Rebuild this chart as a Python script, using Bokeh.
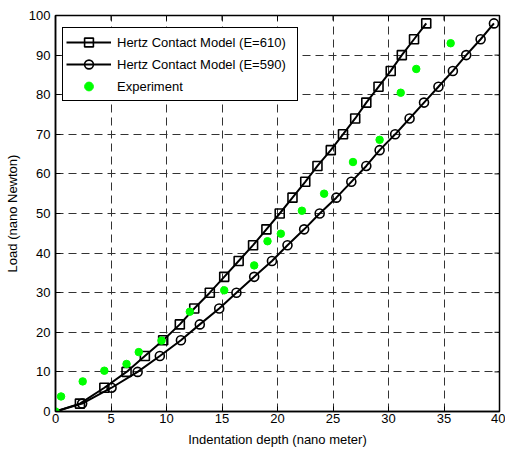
import math
from bokeh.plotting import figure
from bokeh.models import Range1d, FixedTicker, Legend, LegendItem
from bokeh.embed import file_html
from bokeh.resources import INLINE

# Hertz Contact Model (E=610)
sq_x = [0, 2.2, 4.4, 6.4, 8.05, 9.7, 11.2, 12.5, 13.9, 15.2, 16.5, 17.8, 19.0, 20.2,
        21.35, 22.5, 23.6, 24.8, 25.9, 27.0, 28.0, 29.1, 30.2, 31.2, 32.3, 33.4]
sq_y = [0, 2, 6, 10, 14, 18, 22, 26, 30, 34, 38, 42, 46, 50, 54, 58, 62, 66, 70, 74,
        78, 82, 86, 90, 94, 98]
# Hertz Contact Model (E=590)
ci_x = [0, 2.4, 5.05, 7.4, 9.4, 11.3, 13.0, 14.75, 16.3, 17.9, 19.5, 20.9, 22.4, 23.8,
        25.3, 26.65, 28.0, 29.2, 30.6, 31.9, 33.2, 34.5, 35.8, 37.0, 38.3, 39.5]
ci_y = [0, 2, 6, 10, 14, 18, 22, 26, 30, 34, 38, 42, 46, 50, 54, 58, 62, 66, 70, 74,
        78, 82, 86, 90, 94, 98]
# Experiment
ex_x = [0, 0.5, 2.45, 4.4, 6.4, 7.5, 9.55, 12.1, 15.2, 17.9, 19.1, 20.3, 22.2, 24.2,
        26.8, 29.2, 31.1, 32.5, 35.6]
ex_y = [0, 3.8, 7.6, 10.3, 12.0, 15.0, 17.9, 25.2, 30.6, 36.9, 43.0, 44.9, 50.7, 55.0,
        63.0, 68.6, 80.5, 86.5, 93.0]

x_ticks = [0, 5, 10, 15, 20, 25, 30, 35, 40]
y_ticks = [0, 10, 20, 30, 40, 50, 60, 70, 80, 90, 100]
X_MAX = 40
Y_MAX = 100

FONT = "Liberation Sans"
FS = "13px"

p = figure(width=505, height=452, output_backend="svg", toolbar_location=None,
           x_range=Range1d(0, X_MAX), y_range=Range1d(0, Y_MAX),
           min_border_left=55, min_border_right=6, min_border_top=15,
           min_border_bottom=41, background_fill_color="white",
           border_fill_color="white")

p.outline_line_color = "black"
p.outline_line_width = 1.5
p.outline_line_alpha = 1

for ax in (p.xaxis[0], p.yaxis[0]):
    ax.major_tick_in = 5
    ax.major_tick_out = 0
    ax.minor_tick_line_color = None
    ax.axis_line_color = "black"
    ax.axis_line_width = 1.5
    ax.major_tick_line_color = "black"
    ax.major_tick_line_width = 1
    ax.major_label_text_font = FONT
    ax.major_label_text_font_size = FS
    ax.major_label_text_color = "black"
    ax.axis_label_text_font = FONT
    ax.axis_label_text_font_size = FS
    ax.axis_label_text_font_style = "normal"
    ax.axis_label_text_color = "black"

p.xaxis[0].ticker = FixedTicker(ticks=x_ticks)
p.yaxis[0].ticker = FixedTicker(ticks=y_ticks)
p.xaxis[0].axis_label = "Indentation depth (nano meter)"
p.yaxis[0].axis_label = "Load (nano Newton)"
p.xaxis[0].major_label_standoff = 2
p.xaxis[0].axis_label_standoff = 6
p.yaxis[0].major_label_standoff = 5
p.yaxis[0].axis_label_standoff = 6

p.xgrid.ticker = FixedTicker(ticks=x_ticks)
p.ygrid.ticker = FixedTicker(ticks=y_ticks)
for g in (p.xgrid[0], p.ygrid[0]):
    g.grid_line_color = "#333333"
    g.grid_line_width = 1
    g.grid_line_dash = "8 5"
    g.grid_line_alpha = 1

# inward tick marks on the top and right edges of the box
p.ray(x=x_ticks, y=[Y_MAX] * len(x_ticks), length=5, length_units="screen",
      angle=-math.pi / 2, line_color="black", line_width=1)
p.ray(x=[X_MAX] * len(y_ticks), y=y_ticks, length=5, length_units="screen",
      angle=math.pi, line_color="black", line_width=1)

l1 = p.line(sq_x, sq_y, line_color="black", line_width=2)
s1 = p.scatter(sq_x[1:], sq_y[1:], marker="square", size=9, fill_color=None,
               line_color="black", line_width=1.6)
l2 = p.line(ci_x, ci_y, line_color="black", line_width=2)
s2 = p.scatter(ci_x[1:], ci_y[1:], marker="circle", size=9, fill_color=None,
               line_color="black", line_width=1.6)
s3 = p.scatter(ex_x, ex_y, marker="circle", size=7.5, fill_color="#00ff00",
               line_color="#00ff00", line_width=1)

legend = Legend(items=[
    LegendItem(label="Hertz Contact Model (E=610)", renderers=[l1, s1]),
    LegendItem(label="Hertz Contact Model (E=590)", renderers=[l2, s2]),
    LegendItem(label="Experiment", renderers=[s3]),
], location=(7, 310))
legend.margin = 0
legend.padding = 3
legend.spacing = 0
legend.glyph_width = 45
legend.glyph_height = 22
legend.label_height = 22
legend.label_width = 177
legend.label_standoff = 6
legend.label_text_font = FONT
legend.label_text_font_size = FS
legend.label_text_color = "black"
legend.border_line_color = "black"
legend.border_line_width = 1
legend.border_line_alpha = 1
legend.background_fill_color = "white"
legend.background_fill_alpha = 1
p.add_layout(legend)

open("out.html", "w").write(file_html(p, INLINE))
